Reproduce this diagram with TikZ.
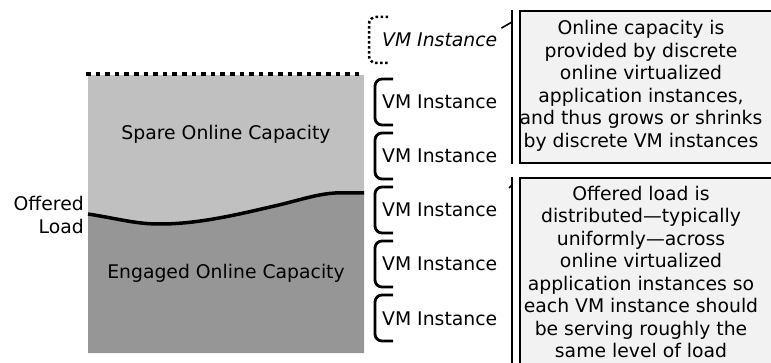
\documentclass[tikz,border=0pt]{standalone}
\usepackage{fontspec}
\setmainfont{DejaVu Sans}
\definecolor{spareG}{RGB}{192,192,192}
\definecolor{engagedG}{RGB}{150,150,150}
\definecolor{noteG}{RGB}{242,242,242}
\newcommand{\vmfont}{\fontsize{18.8}{22.5}\selectfont}

\begin{document}
\begin{tikzpicture}[x=1pt,y=-1pt,font=\vmfont,
  brak/.style={line width=2.8pt,rounded corners=7pt},
  vmlbl/.style={anchor=base west,inner sep=0pt},
  note/.style={draw,line width=1.6pt,fill=noteG,anchor=north west,inner sep=0pt},
  bar/.style={line width=1.6pt}]
\useasboundingbox (0,0) rectangle (771,363);
% capacity column
\fill[spareG] (88,75) rectangle (364,353);
\fill[engagedG] (88,353) -- (88,214) .. controls (120,219) and (135,224) .. (160,224) .. controls (200,224) and (240,214) .. (283,204) .. controls (310,197) and (320,194) .. (335,193) -- (364,193) -- (364,353) -- cycle;
\draw[line width=3.5pt] (88,214) .. controls (120,219) and (135,224) .. (160,224) .. controls (200,224) and (240,214) .. (283,204) .. controls (310,197) and (320,194) .. (335,193) -- (364,193);
\draw[line width=4.6pt,dash pattern=on 4.6pt off 5pt] (86,74) -- (364,74);
\node[anchor=base] (spare) at (226,140) {Spare Online Capacity};
\node[anchor=base] (engaged) at (226,279) {Engaged Online Capacity};
\node[align=right,anchor=east,inner sep=0pt] (offered) at (84,215) {Offered\\Load};
% VM instances
\node[vmlbl,font=\vmfont\itshape] (vmnew) at (382,47) {VM Instance};
\draw[brak,line width=2.5pt,dash pattern=on 2.5pt off 2.5pt] (388,17) -- (369,17) -- (369,63) -- (388,63);
\foreach \i in {1,...,5} {\pgfmathsetmacro{\y}{48+54*\i}
  \node[vmlbl] (vm\i) at (382,\y+7) {VM Instance};
  \draw[brak] (393,\y-23) -- (375,\y-23) -- (375,\y+23) -- (393,\y+23);}
% notes
\node[note,minimum width=280pt,minimum height=152pt] (capbox) at (519,10) {};
\node[align=center] (captxt) at (641,86) {Online capacity is\\provided by discrete\\online virtualized\\application instances,\\and thus grows or shrinks\\by discrete VM instances};
\node[note,minimum width=280pt,minimum height=200pt] (loadbox) at (519,177) {};
\node[align=center] (loadtxt) at (641,272) {Offered load is\\distributed---typically\\uniformly---across\\online virtualized\\application instances so\\each VM instance should\\be serving roughly the\\same level of load};
\draw[bar] ([xshift=-7pt]capbox.north west) -- ([xshift=-7pt]capbox.south west);
\draw[bar] ([xshift=-7pt]loadbox.north west) -- ([xshift=-7pt]loadbox.south west);
\coordinate (capbar) at (512,22); \coordinate (loadbar) at (512,185); \coordinate (loadtip) at (509,188);
\draw[bar] (capbar) -- ([xshift=4pt,yshift=5pt]vmnew.north east);
\draw[bar] (loadbar) -- (loadtip);
\end{tikzpicture}
\end{document}
